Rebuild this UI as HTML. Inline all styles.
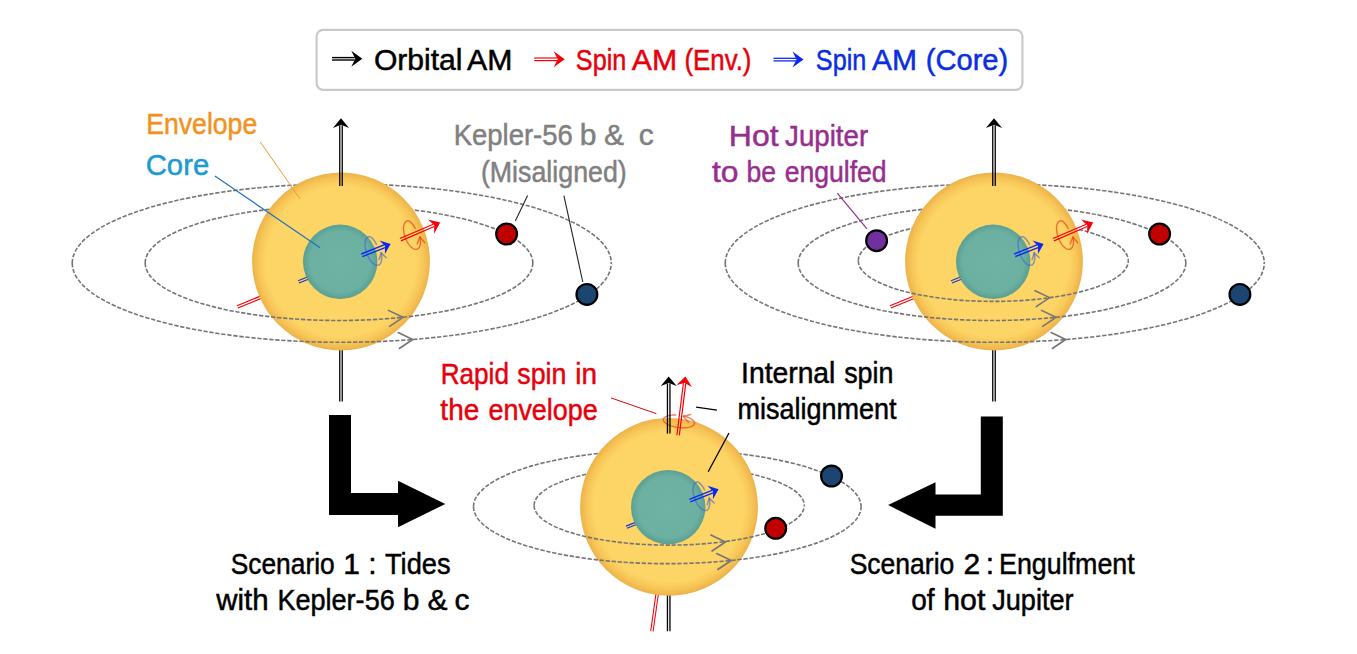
<!DOCTYPE html>
<html><head><meta charset="utf-8"><title>Kepler-56 scenarios</title>
<style>html,body{margin:0;padding:0;background:#fff;}svg{display:block;}text{font-family:"Liberation Sans",sans-serif;}</style>
</head><body>
<svg width="1357" height="654" viewBox="0 0 1357 654">
<defs>
<radialGradient id="gstar" cx="50%" cy="50%" r="50%">
<stop offset="0" stop-color="#fdd666"/><stop offset="0.84" stop-color="#fdd566"/><stop offset="0.925" stop-color="#f7c758"/><stop offset="1" stop-color="#edb249"/>
</radialGradient>
<radialGradient id="gcore" cx="50%" cy="50%" r="50%">
<stop offset="0" stop-color="#6fb3a5"/><stop offset="0.82" stop-color="#6cb0a2"/><stop offset="1" stop-color="#5a9f92"/>
</radialGradient>
</defs>
<rect width="1357" height="654" fill="#fff"/>
<rect x="316.6" y="29.8" width="705.8" height="60" rx="6.5" ry="6.5" fill="#fff" stroke="#c9c9c9" stroke-width="2.2"/>
<line x1="332" y1="60" x2="354.8" y2="60" stroke="#000" stroke-width="1.4" /><line x1="332" y1="57.6" x2="354.8" y2="57.6" stroke="#000" stroke-width="1.4" /><polygon points="362.3,58.8 351.3,66.8 355.3,58.8 351.3,50.8" fill="#000"/>
<line x1="534.2" y1="60.6" x2="557.2" y2="60.6" stroke="#f5000a" stroke-width="1.2" /><line x1="534.2" y1="58" x2="557.2" y2="58" stroke="#f5000a" stroke-width="1.2" /><polygon points="564.7,59.3 553.7,67.3 557.7,59.3 553.7,51.3" fill="#f5000a"/>
<line x1="773.5" y1="60.9" x2="796" y2="60.9" stroke="#0a28f0" stroke-width="1.3" /><line x1="773.5" y1="58.3" x2="796" y2="58.3" stroke="#0a28f0" stroke-width="1.3" /><polygon points="803.5,59.6 792.5,67.6 796.5,59.6 792.5,51.6" fill="#0a28f0"/>
<text x="373.88" y="70" font-size="30" fill="#000" stroke="#000" stroke-width="0.5" textLength="88.67" lengthAdjust="spacingAndGlyphs">Orbital</text><text x="467.02" y="70" font-size="30" fill="#000" stroke="#000" stroke-width="0.5" textLength="45.32" lengthAdjust="spacingAndGlyphs">AM</text>
<text x="575.86" y="70" font-size="30" fill="#e6000c" stroke="#e6000c" stroke-width="0.5" textLength="50.48" lengthAdjust="spacingAndGlyphs">Spin</text><text x="631.73" y="70" font-size="30" fill="#e6000c" stroke="#e6000c" stroke-width="0.5" textLength="45.33" lengthAdjust="spacingAndGlyphs">AM</text><text x="684.45" y="70" font-size="30" fill="#e6000c" stroke="#e6000c" stroke-width="0.5" textLength="67.03" lengthAdjust="spacingAndGlyphs">(Env.)</text>
<text x="815.87" y="70" font-size="30" fill="#0a2ee0" stroke="#0a2ee0" stroke-width="0.5" textLength="50.41" lengthAdjust="spacingAndGlyphs">Spin</text><text x="872.02" y="70" font-size="30" fill="#0a2ee0" stroke="#0a2ee0" stroke-width="0.5" textLength="45.02" lengthAdjust="spacingAndGlyphs">AM</text><text x="925.68" y="70" font-size="30" fill="#0a2ee0" stroke="#0a2ee0" stroke-width="0.5" textLength="82.6" lengthAdjust="spacingAndGlyphs">(Core)</text>
<path d="M145.2 263 A193.8 57.5 0 0 1 532.8 263" fill="none" stroke="#757575" stroke-width="1.6" stroke-dasharray="4.3 1.7"/>
<path d="M72.25 263.1 A269.5 79.2 0 0 1 611.25 263.1" fill="none" stroke="#757575" stroke-width="1.6" stroke-dasharray="4.3 1.7"/>
<line x1="342.25" y1="401.5" x2="342.25" y2="321.5" stroke="#000" stroke-width="1.3" /><line x1="339.75" y1="401.5" x2="339.75" y2="321.5" stroke="#000" stroke-width="1.3" />
<line x1="237.87" y1="308.06" x2="281.47" y2="290.26" stroke="#f5000a" stroke-width="1.2" /><line x1="236.93" y1="305.74" x2="280.53" y2="287.94" stroke="#f5000a" stroke-width="1.2" />
<circle cx="341" cy="261.5" r="88.9" fill="url(#gstar)"/>
<line x1="298.95" y1="283.01" x2="311.45" y2="278.01" stroke="#1a34d0" stroke-width="1.2" /><line x1="298.05" y1="280.79" x2="310.55" y2="275.79" stroke="#1a34d0" stroke-width="1.2" />
<circle cx="340.2" cy="261.8" r="37.2" fill="url(#gcore)"/>
<path d="M145.2 263 A193.8 57.5 0 0 0 532.8 263" fill="none" stroke="#757575" stroke-width="1.6" stroke-dasharray="4.3 1.7"/>
<polyline points="389.64,326.32 403,317.3 388.44,310.37" fill="none" stroke="#757575" stroke-width="1.6" stroke-linecap="round" stroke-linejoin="round" />
<path d="M72.25 263.1 A269.5 79.2 0 0 0 611.25 263.1" fill="none" stroke="#757575" stroke-width="1.6" stroke-dasharray="4.3 1.7"/>
<polyline points="399.34,348.52 412.7,339.5 398.14,332.57" fill="none" stroke="#757575" stroke-width="1.6" stroke-linecap="round" stroke-linejoin="round" />
<polyline points="376.43,244.5 375.94,243.46 375.39,242.45 374.79,241.47 374.15,240.53 373.47,239.66 372.76,238.85 372.02,238.12 371.26,237.49 370.48,236.96 369.75,236.71 369.07,236.72 368.43,236.85 367.83,237.1 367.28,237.47 366.79,237.95 366.34,238.55 365.96,239.25 365.65,240.05 365.4,240.95 365.21,241.93 365.1,242.99 365.06,244.12 365.09,245.31 365.19,246.54 365.36,247.82 365.6,249.12 365.91,250.44 366.28,251.76 366.71,253.07 367.2,254.37 367.74,255.64 368.33,256.87 368.96,258.05 369.63,259.17 370.34,260.22 371.07,261.19 371.82,262.07 372.58,262.86 373.35,263.55 374.12,264.13 374.88,264.59 375.64,264.94 376.37,265.18 377.08,265.29 377.75,265.28 378.39,265.14 378.99,264.89 379.54,264.52 380.03,264.03 380.47,263.43 380.85,262.72 381.16,261.91 381.41,261.01 381.59,260.03 381.7,258.97 381.74,257.84 381.71,256.65 381.61,255.41 381.43,254.13 381.19,252.83" fill="none" stroke="#4666d0" stroke-width="1.5" stroke-linecap="round" stroke-linejoin="round" stroke-opacity="0.62"/><polyline points="386.14,257.78 381.19,252.83 379.15,259.53" fill="none" stroke="#4666d0" stroke-width="1.5" stroke-linecap="round" stroke-linejoin="round"  stroke-opacity="0.62"/>
<line x1="362.32" y1="256.6" x2="385.07" y2="247.59" stroke="#0a28f0" stroke-width="1.35" /><line x1="361.28" y1="254" x2="384.04" y2="244.99" stroke="#0a28f0" stroke-width="1.35" /><polygon points="390.6,243.9 384.92,254 385.02,246.11 379.54,240.42" fill="#0a28f0"/>
<line x1="342.25" y1="186" x2="342.25" y2="125.3" stroke="#000" stroke-width="1.3" /><line x1="339.75" y1="186" x2="339.75" y2="125.3" stroke="#000" stroke-width="1.3" /><polygon points="341,118.3 349.1,127.9 341,124.8 332.9,127.9" fill="#000"/>
<polyline points="415.17,228.55 414.67,227.51 414.12,226.5 413.52,225.52 412.87,224.59 412.18,223.72 411.45,222.91 410.7,222.19 409.93,221.57 409.14,221.04 408.39,220.8 407.69,220.81 407.04,220.95 406.42,221.2 405.85,221.58 405.34,222.07 404.88,222.67 404.48,223.38 404.15,224.19 403.89,225.09 403.69,226.08 403.56,227.14 403.51,228.27 403.53,229.47 403.62,230.7 403.79,231.98 404.02,233.28 404.32,234.6 404.69,235.93 405.12,237.24 405.61,238.54 406.15,239.81 406.75,241.04 407.38,242.21 408.06,243.33 408.77,244.38 409.51,245.34 410.27,246.22 411.05,247.01 411.83,247.69 412.62,248.26 413.4,248.72 414.16,249.07 414.91,249.3 415.64,249.4 416.33,249.38 416.99,249.24 417.6,248.98 418.17,248.6 418.68,248.11 419.13,247.5 419.53,246.79 419.86,245.98 420.12,245.07 420.32,244.08 420.44,243.02 420.49,241.88 420.47,240.69 420.37,239.45 420.21,238.17 419.97,236.87" fill="none" stroke="#ea3a14" stroke-width="1.4" stroke-linecap="round" stroke-linejoin="round" stroke-opacity="0.66"/><polyline points="424.69,242.73 419.97,236.87 417.18,243.86" fill="none" stroke="#ea3a14" stroke-width="1.4" stroke-linecap="round" stroke-linejoin="round"  stroke-opacity="0.66"/>
<line x1="400.89" y1="240.85" x2="434.26" y2="226.51" stroke="#f5000a" stroke-width="1.2" /><line x1="399.91" y1="238.55" x2="433.28" y2="224.21" stroke="#f5000a" stroke-width="1.2" /><polygon points="440.2,222.6 434.09,233.71 434.23,225.17 427.93,219.38" fill="#f5000a"/>
<circle cx="506.6" cy="234" r="10.4" fill="#c00000" stroke="#000" stroke-width="2.2"/>
<circle cx="586.9" cy="294.4" r="10.4" fill="#1c4571" stroke="#000" stroke-width="2.2"/>
<path d="M858.3 260.8 A135 40.6 0 0 1 1128.3 260.8" fill="none" stroke="#757575" stroke-width="1.6" stroke-dasharray="4.3 1.7"/>
<path d="M798.2 263 A193.8 57.5 0 0 1 1185.8 263" fill="none" stroke="#757575" stroke-width="1.6" stroke-dasharray="4.3 1.7"/>
<path d="M725.25 263.1 A269.5 79.2 0 0 1 1264.25 263.1" fill="none" stroke="#757575" stroke-width="1.6" stroke-dasharray="4.3 1.7"/>
<line x1="995.25" y1="401.5" x2="995.25" y2="321.5" stroke="#000" stroke-width="1.3" /><line x1="992.75" y1="401.5" x2="992.75" y2="321.5" stroke="#000" stroke-width="1.3" />
<line x1="890.87" y1="308.06" x2="934.47" y2="290.26" stroke="#f5000a" stroke-width="1.2" /><line x1="889.93" y1="305.74" x2="933.53" y2="287.94" stroke="#f5000a" stroke-width="1.2" />
<circle cx="994" cy="261.5" r="88.9" fill="url(#gstar)"/>
<line x1="951.95" y1="283.01" x2="964.45" y2="278.01" stroke="#1a34d0" stroke-width="1.2" /><line x1="951.05" y1="280.79" x2="963.55" y2="275.79" stroke="#1a34d0" stroke-width="1.2" />
<circle cx="993.2" cy="261.8" r="37.2" fill="url(#gcore)"/>
<path d="M858.3 260.8 A135 40.6 0 0 0 1128.3 260.8" fill="none" stroke="#757575" stroke-width="1.6" stroke-dasharray="4.3 1.7"/>
<polyline points="1036.24,306.62 1049.6,297.6 1035.04,290.67" fill="none" stroke="#757575" stroke-width="1.6" stroke-linecap="round" stroke-linejoin="round" />
<path d="M798.2 263 A193.8 57.5 0 0 0 1185.8 263" fill="none" stroke="#757575" stroke-width="1.6" stroke-dasharray="4.3 1.7"/>
<polyline points="1042.64,326.32 1056,317.3 1041.44,310.37" fill="none" stroke="#757575" stroke-width="1.6" stroke-linecap="round" stroke-linejoin="round" />
<path d="M725.25 263.1 A269.5 79.2 0 0 0 1264.25 263.1" fill="none" stroke="#757575" stroke-width="1.6" stroke-dasharray="4.3 1.7"/>
<polyline points="1052.34,348.52 1065.7,339.5 1051.14,332.57" fill="none" stroke="#757575" stroke-width="1.6" stroke-linecap="round" stroke-linejoin="round" />
<polyline points="1029.43,244.5 1028.94,243.46 1028.39,242.45 1027.79,241.47 1027.15,240.53 1026.47,239.66 1025.76,238.85 1025.02,238.12 1024.26,237.49 1023.48,236.96 1022.75,236.71 1022.07,236.72 1021.43,236.85 1020.83,237.1 1020.28,237.47 1019.79,237.95 1019.34,238.55 1018.96,239.25 1018.65,240.05 1018.4,240.95 1018.21,241.93 1018.1,242.99 1018.06,244.12 1018.09,245.31 1018.19,246.54 1018.36,247.82 1018.6,249.12 1018.91,250.44 1019.28,251.76 1019.71,253.07 1020.2,254.37 1020.74,255.64 1021.33,256.87 1021.96,258.05 1022.63,259.17 1023.34,260.22 1024.07,261.19 1024.82,262.07 1025.58,262.86 1026.35,263.55 1027.12,264.13 1027.88,264.59 1028.64,264.94 1029.37,265.18 1030.08,265.29 1030.75,265.28 1031.39,265.14 1031.99,264.89 1032.54,264.52 1033.03,264.03 1033.47,263.43 1033.85,262.72 1034.16,261.91 1034.41,261.01 1034.59,260.03 1034.7,258.97 1034.74,257.84 1034.71,256.65 1034.61,255.41 1034.43,254.13 1034.19,252.83" fill="none" stroke="#4666d0" stroke-width="1.5" stroke-linecap="round" stroke-linejoin="round" stroke-opacity="0.62"/><polyline points="1039.14,257.78 1034.19,252.83 1032.15,259.53" fill="none" stroke="#4666d0" stroke-width="1.5" stroke-linecap="round" stroke-linejoin="round"  stroke-opacity="0.62"/>
<line x1="1015.32" y1="256.6" x2="1038.07" y2="247.59" stroke="#0a28f0" stroke-width="1.35" /><line x1="1014.28" y1="254" x2="1037.04" y2="244.99" stroke="#0a28f0" stroke-width="1.35" /><polygon points="1043.6,243.9 1037.92,254 1038.02,246.11 1032.54,240.42" fill="#0a28f0"/>
<line x1="995.25" y1="186" x2="995.25" y2="125.3" stroke="#000" stroke-width="1.3" /><line x1="992.75" y1="186" x2="992.75" y2="125.3" stroke="#000" stroke-width="1.3" /><polygon points="994,118.3 1002.1,127.9 994,124.8 985.9,127.9" fill="#000"/>
<polyline points="1068.17,228.55 1067.67,227.51 1067.12,226.5 1066.52,225.52 1065.87,224.59 1065.18,223.72 1064.45,222.91 1063.7,222.19 1062.93,221.57 1062.14,221.04 1061.39,220.8 1060.69,220.81 1060.04,220.95 1059.42,221.2 1058.85,221.58 1058.34,222.07 1057.88,222.67 1057.48,223.38 1057.15,224.19 1056.89,225.09 1056.69,226.08 1056.56,227.14 1056.51,228.27 1056.53,229.47 1056.62,230.7 1056.79,231.98 1057.02,233.28 1057.32,234.6 1057.69,235.93 1058.12,237.24 1058.61,238.54 1059.15,239.81 1059.75,241.04 1060.38,242.21 1061.06,243.33 1061.77,244.38 1062.51,245.34 1063.27,246.22 1064.05,247.01 1064.83,247.69 1065.62,248.26 1066.4,248.72 1067.16,249.07 1067.91,249.3 1068.64,249.4 1069.33,249.38 1069.99,249.24 1070.6,248.98 1071.17,248.6 1071.68,248.11 1072.13,247.5 1072.53,246.79 1072.86,245.98 1073.12,245.07 1073.32,244.08 1073.44,243.02 1073.49,241.88 1073.47,240.69 1073.37,239.45 1073.21,238.17 1072.97,236.87" fill="none" stroke="#ea3a14" stroke-width="1.4" stroke-linecap="round" stroke-linejoin="round" stroke-opacity="0.66"/><polyline points="1077.69,242.73 1072.97,236.87 1070.18,243.86" fill="none" stroke="#ea3a14" stroke-width="1.4" stroke-linecap="round" stroke-linejoin="round"  stroke-opacity="0.66"/>
<line x1="1053.89" y1="240.85" x2="1087.26" y2="226.51" stroke="#f5000a" stroke-width="1.2" /><line x1="1052.91" y1="238.55" x2="1086.28" y2="224.21" stroke="#f5000a" stroke-width="1.2" /><polygon points="1093.2,222.6 1087.09,233.71 1087.23,225.17 1080.93,219.38" fill="#f5000a"/>
<circle cx="1159.6" cy="234" r="10.4" fill="#c00000" stroke="#000" stroke-width="2.2"/>
<circle cx="1239.9" cy="294.4" r="10.4" fill="#1c4571" stroke="#000" stroke-width="2.2"/>
<circle cx="876.6" cy="240.7" r="10.4" fill="#7030a0" stroke="#000" stroke-width="2.2"/>
<path d="M534.1 505.5 A135.1 39.6 0 0 1 804.3 505.5" fill="none" stroke="#757575" stroke-width="1.6" stroke-dasharray="4.3 1.7"/>
<path d="M473.5 506.7 A193.8 57 0 0 1 861.1 506.7" fill="none" stroke="#757575" stroke-width="1.6" stroke-dasharray="4.3 1.7"/>
<line x1="669.95" y1="631.3" x2="669.95" y2="566.8" stroke="#000" stroke-width="1.3" /><line x1="667.45" y1="631.3" x2="667.45" y2="566.8" stroke="#000" stroke-width="1.3" />
<line x1="653.09" y1="631.47" x2="662.19" y2="566.97" stroke="#f5000a" stroke-width="1.05" /><line x1="650.71" y1="631.13" x2="659.81" y2="566.63" stroke="#f5000a" stroke-width="1.05" />
<circle cx="669" cy="506.8" r="88.9" fill="url(#gstar)"/>
<line x1="626.95" y1="528.31" x2="639.45" y2="523.31" stroke="#1a34d0" stroke-width="1.2" /><line x1="626.05" y1="526.09" x2="638.55" y2="521.09" stroke="#1a34d0" stroke-width="1.2" />
<circle cx="668.2" cy="507.1" r="37.2" fill="url(#gcore)"/>
<path d="M534.1 505.5 A135.1 39.6 0 0 0 804.3 505.5" fill="none" stroke="#757575" stroke-width="1.6" stroke-dasharray="4.3 1.7"/>
<polyline points="712.04,551.02 725.4,542 710.84,535.07" fill="none" stroke="#757575" stroke-width="1.6" stroke-linecap="round" stroke-linejoin="round" />
<path d="M473.5 506.7 A193.8 57 0 0 0 861.1 506.7" fill="none" stroke="#757575" stroke-width="1.6" stroke-dasharray="4.3 1.7"/>
<polyline points="717.84,569.52 731.2,560.5 716.64,553.57" fill="none" stroke="#757575" stroke-width="1.6" stroke-linecap="round" stroke-linejoin="round" />
<polyline points="704.43,489.8 703.94,488.76 703.39,487.75 702.79,486.77 702.15,485.83 701.47,484.96 700.76,484.15 700.02,483.42 699.26,482.79 698.48,482.26 697.75,482.01 697.07,482.02 696.43,482.15 695.83,482.4 695.28,482.77 694.79,483.25 694.34,483.85 693.96,484.55 693.65,485.35 693.4,486.25 693.21,487.23 693.1,488.29 693.06,489.42 693.09,490.61 693.19,491.84 693.36,493.12 693.6,494.42 693.91,495.74 694.28,497.06 694.71,498.37 695.2,499.67 695.74,500.94 696.33,502.17 696.96,503.35 697.63,504.47 698.34,505.52 699.07,506.49 699.82,507.37 700.58,508.16 701.35,508.85 702.12,509.43 702.88,509.89 703.64,510.24 704.37,510.48 705.08,510.59 705.75,510.58 706.39,510.44 706.99,510.19 707.54,509.82 708.03,509.33 708.47,508.73 708.85,508.02 709.16,507.21 709.41,506.31 709.59,505.33 709.7,504.27 709.74,503.14 709.71,501.95 709.61,500.71 709.43,499.43 709.19,498.13" fill="none" stroke="#4666d0" stroke-width="1.5" stroke-linecap="round" stroke-linejoin="round" stroke-opacity="0.62"/><polyline points="714.14,503.08 709.19,498.13 707.15,504.83" fill="none" stroke="#4666d0" stroke-width="1.5" stroke-linecap="round" stroke-linejoin="round"  stroke-opacity="0.62"/>
<line x1="690.32" y1="501.9" x2="713.07" y2="492.89" stroke="#0a28f0" stroke-width="1.35" /><line x1="689.28" y1="499.3" x2="712.04" y2="490.29" stroke="#0a28f0" stroke-width="1.35" /><polygon points="718.6,489.2 712.92,499.3 713.02,491.41 707.54,485.72" fill="#0a28f0"/>
<circle cx="831.5" cy="476" r="10.4" fill="#1c4571" stroke="#000" stroke-width="2.2"/>
<circle cx="775.7" cy="528.3" r="10.4" fill="#c00000" stroke="#000" stroke-width="2.2"/>
<polyline points="675.74,415.03 674.29,415.02 672.88,415.07 671.53,415.17 670.25,415.34 669.05,415.56 667.95,415.84 666.94,416.16 666.05,416.54 665.27,416.96 664.63,417.42 664.11,417.92 663.74,418.45 663.51,419.01 663.42,419.59 663.47,420.19 663.67,420.79 664.01,421.41 664.49,422.02 665.1,422.63 665.84,423.23 666.7,423.81 667.68,424.36 668.77,424.89 669.94,425.39 671.2,425.85 672.54,426.27 673.93,426.65 675.37,426.97 676.85,427.25 678.34,427.47 679.84,427.63 681.33,427.74 682.8,427.78 684.24,427.77 685.63,427.7 686.95,427.57 688.2,427.39 689.37,427.14 690.44,426.85 691.4,426.5 692.25,426.11 692.98,425.67 693.58,425.2 694.04,424.69 694.36,424.15 694.54,423.58 694.58,422.99 694.47,422.39 694.22,421.78 693.83,421.16 693.3,420.55 692.64,419.95 691.85,419.36 690.94,418.78 689.93,418.24 688.81,417.72 687.6,417.23 686.31,416.79 684.95,416.38 683.54,416.03" fill="none" stroke="#ea3a14" stroke-width="1.4" stroke-linecap="round" stroke-linejoin="round" stroke-opacity="0.66"/>
<polyline points="690.67,414.47 683.2,416.4 688.37,422.13" fill="none" stroke="#ea3a14" stroke-width="1.4" stroke-linecap="round" stroke-linejoin="round"  stroke-opacity="0.66"/>
<line x1="669.95" y1="433.6" x2="669.95" y2="383.5" stroke="#000" stroke-width="1.3" /><line x1="667.45" y1="433.6" x2="667.45" y2="383.5" stroke="#000" stroke-width="1.3" /><polygon points="668.7,376.5 676.7,386.1 668.7,383 660.7,386.1" fill="#000"/>
<line x1="679.29" y1="435.55" x2="685.73" y2="383.59" stroke="#f5000a" stroke-width="1.2" /><line x1="676.91" y1="435.25" x2="683.35" y2="383.3" stroke="#f5000a" stroke-width="1.2" /><polygon points="685.4,376.5 691.96,386.99 684.6,382.95 676.48,385.07" fill="#f5000a"/>
<polygon points="329,415 351,415 351,493 398,493 398,480.7 445.3,504 398,527.2 398,515 329,515" fill="#000"/>
<polygon points="1002.8,416.5 980.8,416.5 980.8,494.4 935.5,494.4 935.5,482.2 888.1,505.1 935.5,528.7 935.5,515.8 1002.8,515.8" fill="#000"/>
<line x1="260.3" y1="142" x2="300.2" y2="199.1" stroke="#ee9a30" stroke-width="1.0"/>
<line x1="214.9" y1="176" x2="320.1" y2="247.8" stroke="#1f72b8" stroke-width="1.15"/>
<line x1="527.6" y1="195.6" x2="515.3" y2="220.9" stroke="#222" stroke-width="1.1"/>
<line x1="563.9" y1="195.6" x2="582.8" y2="282" stroke="#222" stroke-width="1.1"/>
<line x1="837.3" y1="193.2" x2="867" y2="228.8" stroke="#962d8c" stroke-width="1.2"/>
<line x1="611" y1="397.9" x2="656.4" y2="413.7" stroke="#e6000c" stroke-width="1.0"/>
<line x1="696.1" y1="407.1" x2="717" y2="410.2" stroke="#000" stroke-width="1.3"/>
<line x1="729" y1="433" x2="708.2" y2="471.8" stroke="#000" stroke-width="1.3"/>
<text x="146.3" y="134" font-size="30" fill="#f2921d" stroke="#f2921d" stroke-width="0.5" textLength="110.88" lengthAdjust="spacingAndGlyphs">Envelope</text>
<text x="145.72" y="175" font-size="30" fill="#1e9ad0" stroke="#1e9ad0" stroke-width="0.5" textLength="63.47" lengthAdjust="spacingAndGlyphs">Core</text>
<text x="453.63" y="145" font-size="30" fill="#808080" stroke="#808080" stroke-width="0.5" textLength="119.16" lengthAdjust="spacingAndGlyphs">Kepler-56</text><text x="579.81" y="145" font-size="30" fill="#808080" stroke="#808080" stroke-width="0.5">b</text><text x="603.94" y="145" font-size="30" fill="#808080" stroke="#808080" stroke-width="0.5">&amp;</text><text x="638.74" y="145" font-size="30" fill="#808080" stroke="#808080" stroke-width="0.5">c</text>
<text x="480.88" y="182" font-size="30" fill="#808080" stroke="#808080" stroke-width="0.5" textLength="145.85" lengthAdjust="spacingAndGlyphs">(Misaligned)</text>
<text x="728.84" y="146" font-size="30" fill="#972e8e" stroke="#972e8e" stroke-width="0.5" textLength="49.72" lengthAdjust="spacingAndGlyphs">Hot</text><text x="785.12" y="146" font-size="30" fill="#972e8e" stroke="#972e8e" stroke-width="0.5" textLength="83.06" lengthAdjust="spacingAndGlyphs">Jupiter</text>
<text x="711.91" y="182" font-size="30" fill="#972e8e" stroke="#972e8e" stroke-width="0.5" textLength="26.55" lengthAdjust="spacingAndGlyphs">to</text><text x="746.55" y="182" font-size="30" fill="#972e8e" stroke="#972e8e" stroke-width="0.5" textLength="29.49" lengthAdjust="spacingAndGlyphs">be</text><text x="784.67" y="182" font-size="30" fill="#972e8e" stroke="#972e8e" stroke-width="0.5" textLength="101.95" lengthAdjust="spacingAndGlyphs">engulfed</text>
<text x="440.68" y="384" font-size="30" fill="#e6000c" stroke="#e6000c" stroke-width="0.5" textLength="68.24" lengthAdjust="spacingAndGlyphs">Rapid</text><text x="517.27" y="384" font-size="30" fill="#e6000c" stroke="#e6000c" stroke-width="0.5" textLength="49.16" lengthAdjust="spacingAndGlyphs">spin</text><text x="575.19" y="384" font-size="30" fill="#e6000c" stroke="#e6000c" stroke-width="0.5" textLength="21.73" lengthAdjust="spacingAndGlyphs">in</text>
<text x="440.36" y="420" font-size="30" fill="#e6000c" stroke="#e6000c" stroke-width="0.5" textLength="38.91" lengthAdjust="spacingAndGlyphs">the</text><text x="488.49" y="420" font-size="30" fill="#e6000c" stroke="#e6000c" stroke-width="0.5" textLength="109.21" lengthAdjust="spacingAndGlyphs">envelope</text>
<text x="741.1" y="383" font-size="30" fill="#000" stroke="#000" stroke-width="0.5" textLength="94.28" lengthAdjust="spacingAndGlyphs">Internal</text><text x="844.13" y="383" font-size="30" fill="#000" stroke="#000" stroke-width="0.5" textLength="49.22" lengthAdjust="spacingAndGlyphs">spin</text>
<text x="737.5" y="419" font-size="30" fill="#000" stroke="#000" stroke-width="0.5" textLength="159.07" lengthAdjust="spacingAndGlyphs">misalignment</text>
<text x="230.71" y="574" font-size="30" fill="#000" stroke="#000" stroke-width="0.5" textLength="103.99" lengthAdjust="spacingAndGlyphs">Scenario</text><text x="343.33" y="574" font-size="30" fill="#000" stroke="#000" stroke-width="0.5">1</text><text x="368.24" y="574" font-size="30" fill="#000" stroke="#000" stroke-width="0.5">:</text><text x="384.95" y="574" font-size="30" fill="#000" stroke="#000" stroke-width="0.5" textLength="65.72" lengthAdjust="spacingAndGlyphs">Tides</text>
<text x="216.2" y="610" font-size="30" fill="#000" stroke="#000" stroke-width="0.5" textLength="52.31" lengthAdjust="spacingAndGlyphs">with</text><text x="277.38" y="610" font-size="30" fill="#000" stroke="#000" stroke-width="0.5" textLength="117.37" lengthAdjust="spacingAndGlyphs">Kepler-56</text><text x="402.7" y="610" font-size="30" fill="#000" stroke="#000" stroke-width="0.5">b</text><text x="427.4" y="610" font-size="30" fill="#000" stroke="#000" stroke-width="0.5">&amp;</text><text x="454.52" y="610" font-size="30" fill="#000" stroke="#000" stroke-width="0.5">c</text>
<text x="849.69" y="574" font-size="30" fill="#000" stroke="#000" stroke-width="0.5" textLength="104.6" lengthAdjust="spacingAndGlyphs">Scenario</text><text x="963.58" y="574" font-size="30" fill="#000" stroke="#000" stroke-width="0.5">2</text><text x="985.81" y="574" font-size="30" fill="#000" stroke="#000" stroke-width="0.5">:</text><text x="999.02" y="574" font-size="30" fill="#000" stroke="#000" stroke-width="0.5" textLength="135.64" lengthAdjust="spacingAndGlyphs">Engulfment</text>
<text x="911.16" y="610" font-size="30" fill="#000" stroke="#000" stroke-width="0.5" textLength="23.36" lengthAdjust="spacingAndGlyphs">of</text><text x="943.16" y="610" font-size="30" fill="#000" stroke="#000" stroke-width="0.5" textLength="42.18" lengthAdjust="spacingAndGlyphs">hot</text><text x="992.2" y="610" font-size="30" fill="#000" stroke="#000" stroke-width="0.5" textLength="81.38" lengthAdjust="spacingAndGlyphs">Jupiter</text>
</svg></body></html>
